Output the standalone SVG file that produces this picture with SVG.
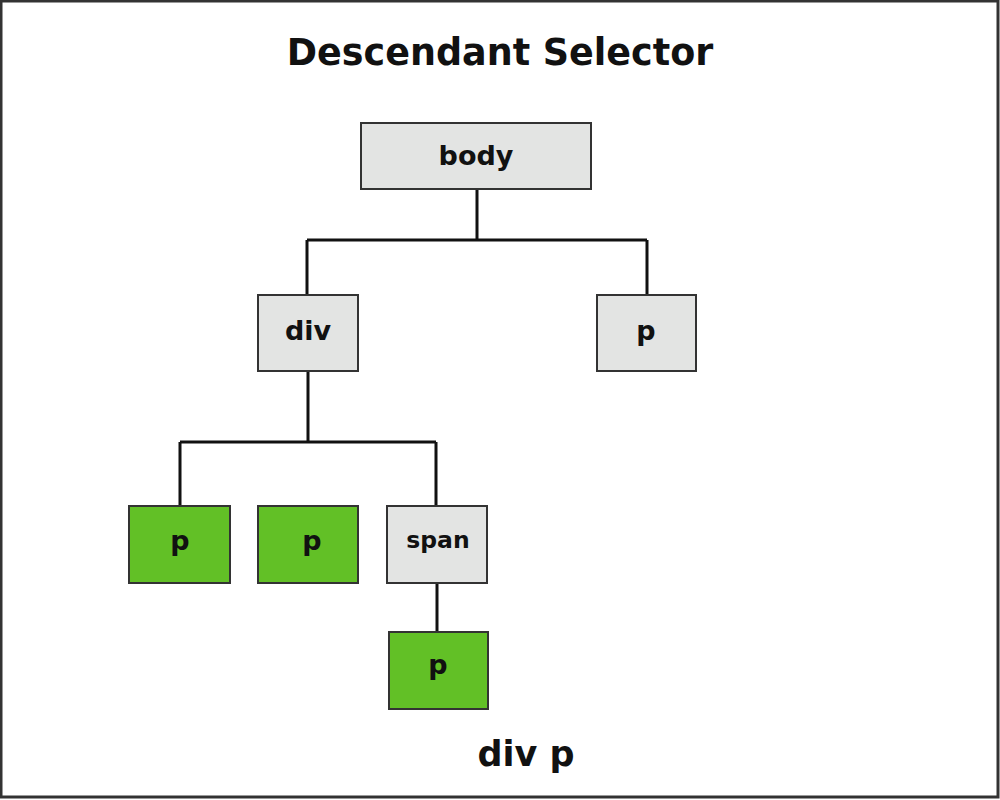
<svg xmlns="http://www.w3.org/2000/svg" width="1000" height="800" viewBox="0 0 1000 800">
<style>
.g{fill:#e3e4e3;stroke:#333;stroke-width:2}
.gr{fill:#62c026;stroke:#333;stroke-width:2}
.t{font-family:"DejaVu Sans",sans-serif;font-weight:bold;font-size:27px;fill:#111;text-anchor:middle}
.c{fill:none;stroke:#111;stroke-width:3}
</style>
<rect x="1" y="1" width="997" height="796" fill="#fff" stroke="#333" stroke-width="3"/>
<text x="500" y="65" font-family="DejaVu Sans, sans-serif" font-weight="bold" font-size="36.5" text-anchor="middle" fill="#111">Descendant Selector</text>
<g id="connectors">
<path class="c" d="M477 189V240M307 240H647M307 240V295M647 240V295"/>
<path class="c" d="M308 371V442M180 442H436M180 442V506M436 442V506"/>
<path class="c" d="M437 583V632"/>
</g>
<g id="body"><rect class="g" x="361" y="123" width="230" height="66"/><text class="t" x="476" y="165">body</text></g>
<g id="div"><rect class="g" x="258" y="295" width="100" height="76"/><text class="t" x="308" y="340">div</text></g>
<g id="p-right"><rect class="g" x="597" y="295" width="99" height="76"/><text class="t" x="646" y="340">p</text></g>
<g id="p1"><rect class="gr" x="129" y="506" width="101" height="77"/><text class="t" x="180" y="550">p</text></g>
<g id="p2"><rect class="gr" x="258" y="506" width="100" height="77"/><text class="t" x="312" y="550">p</text></g>
<g id="span"><rect class="g" x="387" y="506" width="100" height="77"/><text class="t" x="438" y="548" style="font-size:23.5px">span</text></g>
<g id="p3"><rect class="gr" x="389" y="632" width="99" height="77"/><text class="t" x="438" y="674">p</text></g>
<text x="526" y="766" font-family="DejaVu Sans, sans-serif" font-weight="bold" font-size="35" text-anchor="middle" fill="#111">div p</text>
</svg>
